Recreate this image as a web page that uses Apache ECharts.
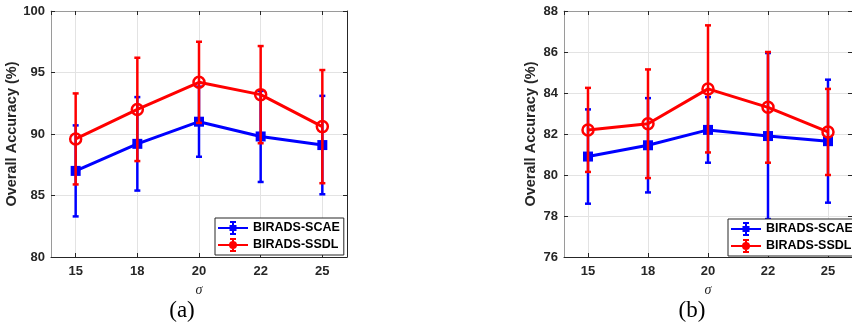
<!DOCTYPE html>
<html>
<head>
    <meta charset="UTF-8">
    <title>Overall Accuracy vs sigma</title>
    <script src="https://cdn.jsdelivr.net/npm/echarts@6/dist/echarts.min.js"></script>
    <style>
        html, body { margin: 0; padding: 0; background: #fff; }
        #main { width: 852px; height: 325px; }
    </style>
</head>
<body>
<div id="main"></div>
<script type="text/javascript">
    // sigma values on the x axis
    var sigmaLabels = ['15', '18', '20', '22', '25'];

    // panel (a)
    var scaeA = [87.0, 89.2, 91.0, 89.8, 89.1];
    var scaeAErr = [3.7, 3.8, 2.85, 3.7, 4.0];
    var ssdlA = [89.6, 92.0, 94.2, 93.2, 90.6];
    var ssdlAErr = [3.7, 4.2, 3.3, 3.95, 4.6];

    // panel (b)
    var scaeB = [80.9, 81.45, 82.2, 81.9, 81.65];
    var scaeBErr = [2.3, 2.3, 1.6, 4.05, 3.0];
    var ssdlB = [82.2, 82.5, 84.2, 83.3, 82.1];
    var ssdlBErr = [2.05, 2.65, 3.1, 2.7, 2.1];

    var BLUE = '#0000ff', RED = '#ff0000', AX = '#262626';
    var FONT = '"Liberation Sans", Arial, sans-serif';

    function pts(vals) {
        return vals.map(function (v, i) { return [i + 1, v]; });
    }
    function bars(vals, errs) {
        return vals.map(function (v, i) { return [i + 1, v - errs[i], v + errs[i]]; });
    }
    function errRender(color) {
        return function (params, api) {
            var hi = api.coord([api.value(0), api.value(2)]);
            var lo = api.coord([api.value(0), api.value(1)]);
            var st = { stroke: color, lineWidth: 2.5 };
            return {
                type: 'group',
                children: [
                    { type: 'line', shape: { x1: hi[0], y1: hi[1], x2: lo[0], y2: lo[1] }, style: st },
                    { type: 'line', shape: { x1: hi[0] - 3, y1: hi[1], x2: hi[0] + 3, y2: hi[1] }, style: st },
                    { type: 'line', shape: { x1: lo[0] - 3, y1: lo[1], x2: lo[0] + 3, y2: lo[1] }, style: st }
                ]
            };
        };
    }

    var iconSq = 'path://M0,6H30V8H0Z M14,1H16V13H14Z M12,0H18V2H12Z M12,12H18V14H12Z M11.5,4H18.5V10H11.5Z';
    var iconCi = 'path://M0,6H30V8H0Z M14,1H16V13H14Z M12,0H18V2H12Z M12,12H18V14H12Z M11,7A4,4 0 1,1 19,7A4,4 0 1,1 11,7Z';

    function xBottom(gi) {
        return {
            type: 'value', gridIndex: gi, min: 0.6, max: 5.4, position: 'bottom',
            name: 'σ', nameLocation: 'middle', nameGap: 22,
            nameTextStyle: { fontFamily: '"Liberation Serif", serif', fontStyle: 'italic', fontSize: 14, color: AX },
            axisLine: { show: true, lineStyle: { color: AX, width: 1 } },
            axisTick: { show: true, inside: true, length: 4, lineStyle: { color: AX } },
            axisLabel: {
                showMinLabel: false, showMaxLabel: false, margin: 8,
                fontFamily: FONT, fontWeight: 'bold', fontSize: 13, color: AX,
                formatter: function (v) {
                    return Math.abs(v - Math.round(v)) < 1e-6 ? (sigmaLabels[Math.round(v) - 1] || '') : '';
                }
            },
            splitLine: { show: true, lineStyle: { color: '#e3e3e3', width: 1 } }
        };
    }
    function xTop(gi) {
        return {
            type: 'value', gridIndex: gi, min: 0.6, max: 5.4, position: 'top',
            axisLine: { show: true, lineStyle: { color: '#9a9a9a', width: 1 } },
            axisTick: { show: true, inside: true, length: 4, lineStyle: { color: AX } },
            axisLabel: { show: false }, splitLine: { show: false }
        };
    }
    function yLeft(gi, mn, mx, step) {
        return {
            type: 'value', gridIndex: gi, min: mn, max: mx, interval: step, position: 'left',
            name: 'Overall Accuracy (%)', nameLocation: 'middle', nameGap: 26,
            nameTextStyle: { fontFamily: FONT, fontWeight: 'bold', fontSize: 14.5, color: AX },
            axisLine: { show: true, lineStyle: { color: '#9a9a9a', width: 1 } },
            axisTick: { show: true, inside: true, length: 4, lineStyle: { color: AX } },
            axisLabel: { margin: 6, fontFamily: FONT, fontWeight: 'bold', fontSize: 13, color: AX },
            splitLine: { show: true, lineStyle: { color: '#e3e3e3', width: 1 } }
        };
    }
    function yRight(gi, mn, mx, step) {
        return {
            type: 'value', gridIndex: gi, min: mn, max: mx, interval: step, position: 'right',
            axisLine: { show: true, lineStyle: { color: AX, width: 1 } },
            axisTick: { show: true, inside: true, length: 4, lineStyle: { color: AX } },
            axisLabel: { show: false }, splitLine: { show: false }
        };
    }
    function legendAt(left, top) {
        return {
            orient: 'vertical', left: left, top: top,
            backgroundColor: '#fff', borderColor: AX, borderWidth: 1,
            padding: [3, 4, 3, 3], itemGap: 3, itemWidth: 30, itemHeight: 14,
            textStyle: { fontFamily: FONT, fontWeight: 'bold', fontSize: 12.5, color: '#000' },
            data: [
                { name: 'BIRADS-SCAE', icon: iconSq, itemStyle: { color: BLUE, borderWidth: 0 } },
                { name: 'BIRADS-SSDL', icon: iconCi, itemStyle: { color: RED, borderWidth: 0 } }
            ],
            selectedMode: false
        };
    }
    function lineSeries(name, data, gi, color, sq) {
        return {
            name: name, type: 'line', xAxisIndex: gi * 2, yAxisIndex: gi * 2,
            data: data, z: sq ? 3 : 5, color: color,
            lineStyle: { color: color, width: 3 },
            symbol: sq ? 'rect' : 'circle', symbolSize: sq ? 10 : 11,
            itemStyle: sq ? { color: color } : { color: 'rgba(255,255,255,0)', borderColor: color, borderWidth: 2.5 },
            emphasis: { disabled: true }, animation: false
        };
    }
    function errSeries(name, data, gi, color, z) {
        return {
            name: name, type: 'custom', xAxisIndex: gi * 2, yAxisIndex: gi * 2,
            data: data, z: z, renderItem: errRender(color), animation: false
        };
    }

    var myChart = echarts.init(document.getElementById('main'));
    var option = {
        animation: false,
        grid: [
            { left: 51, top: 11, width: 296, height: 246 },
            { left: 564, top: 11, width: 294, height: 246 }
        ],
        xAxis: [xBottom(0), xTop(0), xBottom(1), xTop(1)],
        yAxis: [yLeft(0, 80, 100, 5), yRight(0, 80, 100, 5), yLeft(1, 76, 88, 2), yRight(1, 76, 88, 2)],
        legend: [legendAt(215, 218), legendAt(728, 219)],
        graphic: [
            { type: 'text', x: 182, y: 311, style: { text: '(a)', font: '23px "Liberation Serif", serif', fill: '#000', textAlign: 'center', textVerticalAlign: 'middle' } },
            { type: 'text', x: 692, y: 311, style: { text: '(b)', font: '23px "Liberation Serif", serif', fill: '#000', textAlign: 'center', textVerticalAlign: 'middle' } }
        ],
        series: [
            errSeries('BIRADS-SCAE', bars(scaeA, scaeAErr), 0, BLUE, 2),
            lineSeries('BIRADS-SCAE', pts(scaeA), 0, BLUE, true),
            errSeries('BIRADS-SSDL', bars(ssdlA, ssdlAErr), 0, RED, 4),
            lineSeries('BIRADS-SSDL', pts(ssdlA), 0, RED, false),
            errSeries('BIRADS-SCAE', bars(scaeB, scaeBErr), 1, BLUE, 2),
            lineSeries('BIRADS-SCAE', pts(scaeB), 1, BLUE, true),
            errSeries('BIRADS-SSDL', bars(ssdlB, ssdlBErr), 1, RED, 4),
            lineSeries('BIRADS-SSDL', pts(ssdlB), 1, RED, false)
        ]
    };
    myChart.setOption(option);
</script>
</body>
</html>
